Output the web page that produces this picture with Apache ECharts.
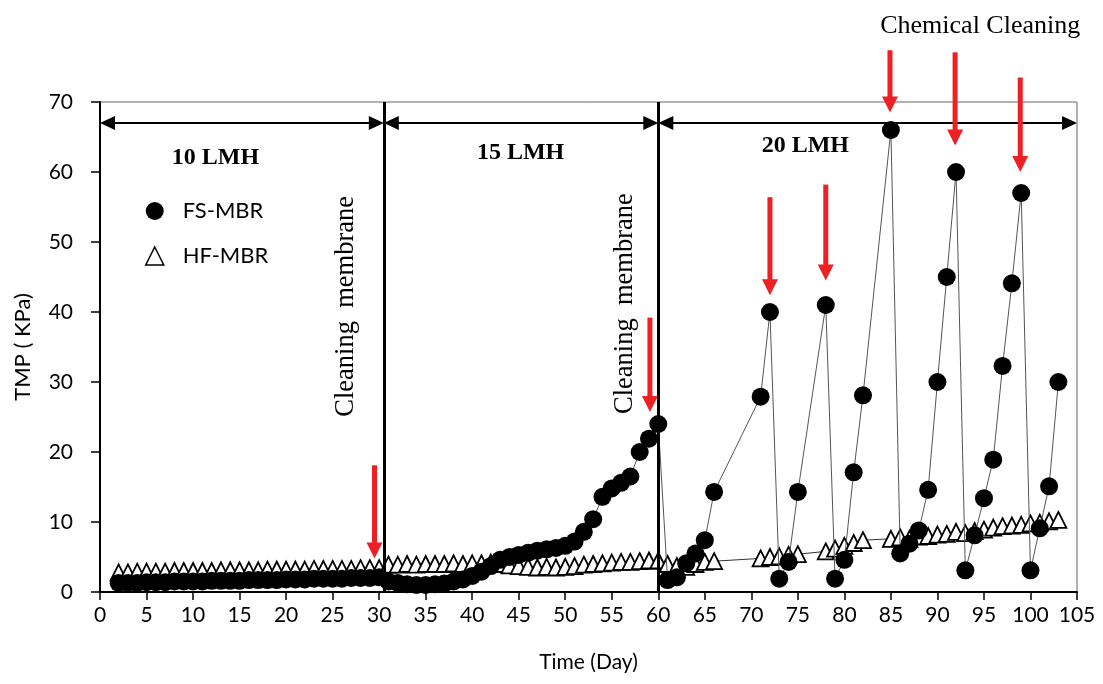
<!DOCTYPE html>
<html><head><meta charset="utf-8">
<script src="https://cdn.jsdelivr.net/npm/echarts@6/dist/echarts.min.js"></script>
<style>html,body{margin:0;padding:0;background:#fff}#c{width:1103px;height:684px}</style>
</head><body><div id="c"></div><script>
// ---- data (Time in days, TMP in kPa) ----
const days = [2,3,4,5,6,7,8,9,10,11,12,13,14,15,16,17,18,19,20,21,22,23,24,25,26,27,28,29,30,
  31,32,33,34,35,36,37,38,39,40,41,42,43,44,45,46,47,48,49,50,51,52,53,54,55,56,57,58,59,60,
  61,62,63,64,65,66, 71,72,73,74,75, 78,79,80,81,82,
  85,86,87,88,89,90,91,92,93,94,95,96,97,98,99,100,101,102,103];
const fsTMP = [1.3,1.3,1.3,1.4,1.4,1.4,1.5,1.5,1.5,1.5,1.6,1.6,1.6,1.6,1.7,1.7,1.7,1.7,1.8,1.8,1.8,1.9,1.9,1.9,1.9,2.0,2.0,2.0,2.1,
  1.5,1.3,1.1,1.0,1.0,1.1,1.2,1.5,1.8,2.3,2.9,3.7,4.6,5.0,5.3,5.6,5.9,6.1,6.3,6.6,7.2,8.6,10.4,13.6,14.8,15.6,16.5,20.0,21.9,24.0,
  1.7,2.1,4.1,5.5,7.4,14.3, 27.9,40.0,1.9,4.3,14.3, 41.0,1.9,4.6,17.1,28.1,
  66.0,5.5,6.9,8.8,14.6,30.0,45.0,60.0,3.1,8.1,13.4,18.9,32.3,44.1,57.0,3.1,9.1,15.1,30.0];
const hfTMP = [2.8,2.8,2.9,2.9,2.9,2.9,3.0,3.0,3.0,3.0,3.0,3.1,3.1,3.1,3.1,3.1,3.2,3.2,3.2,3.2,3.2,3.3,3.3,3.3,3.3,3.3,3.4,3.4,3.4,
  3.9,3.9,4.0,3.9,4.0,4.0,4.0,4.1,4.0,4.1,4.1,4.2,4.0,3.8,3.7,3.6,3.5,3.6,3.5,3.6,3.7,3.9,4.0,4.1,4.2,4.3,4.3,4.4,4.5,4.5,
  4.0,3.7,3.6,4.0,4.3,4.4, 4.8,5.0,5.1,5.3,5.4, 5.8,6.2,6.6,7.0,7.4,
  7.6,7.8,7.6,7.9,8.0,8.2,8.3,8.6,8.4,8.7,8.9,9.2,9.4,9.5,9.6,9.8,9.9,10.1,10.3];
const seriesNames = ['FS-MBR','HF-MBR'];
// flux phases: boundaries (days) and labels
const phaseBounds = [0, 30.5, 60, 105];
const phaseLabels = ['10 LMH','15 LMH','20 LMH'];
const phaseLabelAt = [[12.4,62.1],[45.2,62.7],[75.8,63.7]];
const phaseArrowY = 67;
// cleaning annotations
const cleaningText = 'Cleaning  membrane';
const cleaningAt = [[26.4,40.8],[56.4,41.2]];
const chemText = 'Chemical Cleaning';
const chemAt = [94.6,80.8];
// red arrows: [day, start TMP, tip TMP]
const redArrows = [[29.5,18.1,4.8],[59.1,39.2,25.7],[72.0,56.4,42.4],[78.0,58.2,44.5],
  [84.9,77.4,68.5],[91.9,77.1,63.8],[98.9,73.5,60.0]];

const FONT = 'Lato, "Open Sans", sans-serif';
const SERIF = '"Liberation Serif", "DejaVu Serif", serif';
const chart = echarts.init(document.getElementById('c'));
const fsData = days.map((d,i)=>[d, fsTMP[i]]);
const hfData = days.map((d,i)=>[d, hfTMP[i]]);

chart.setOption({
  animation:false,
  backgroundColor:'#fff',
  grid:{left:100, right:26, top:102, bottom:92, show:true, borderColor:'#666', borderWidth:1},
  legend:{orient:'vertical', left:145, top:200, itemWidth:18, itemHeight:18, itemGap:23, padding:0,
    textStyle:{fontFamily:FONT, fontSize:22, color:'#000', padding:[0,0,0,14]},
    data:[{name:seriesNames[0], icon:'circle', itemStyle:{color:'#000'}},
          {name:seriesNames[1], icon:'triangle', itemStyle:{color:'#fff', borderColor:'#000', borderWidth:1.5}}]},
  xAxis:{type:'value', min:0, max:105, interval:5,
    name:'Time (Day)', nameLocation:'middle', nameGap:60,
    nameTextStyle:{fontFamily:FONT, fontSize:21, color:'#000'},
    axisLine:{lineStyle:{color:'#000', width:2}},
    axisTick:{inside:false, length:8, lineStyle:{color:'#000', width:1.5}},
    axisLabel:{fontFamily:FONT, fontSize:21, color:'#000', margin:13},
    splitLine:{show:false}},
  yAxis:{type:'value', min:0, max:70, interval:10,
    name:'TMP ( KPa)', nameLocation:'middle', nameRotate:90, nameGap:66,
    nameTextStyle:{fontFamily:FONT, fontSize:22, color:'#000'},
    axisLine:{show:true, lineStyle:{color:'#000', width:2}},
    axisTick:{show:true, inside:false, length:9, lineStyle:{color:'#000', width:1.5}},
    axisLabel:{fontFamily:FONT, fontSize:21, color:'#000', margin:27},
    splitLine:{show:false}},
  series:[
    {name:seriesNames[1], type:'line', data:hfData, symbol:'triangle', symbolSize:[16,16],
     itemStyle:{color:'#fff', borderColor:'#000', borderWidth:1.8},
     lineStyle:{color:'#333', width:1}, z:2,
     markLine:{silent:true, symbol:'none', label:{show:false},
       lineStyle:{color:'#000', width:3, type:'solid'},
       data:phaseBounds.slice(1,3).map(v=>({xAxis:v}))}},
    {name:seriesNames[0], type:'line', data:fsData, symbol:'circle', symbolSize:18,
     itemStyle:{color:'#000'}, lineStyle:{color:'#555', width:1}, z:3}
  ]
});

function px(x,y){ return chart.convertToPixel({gridIndex:0},[x,y]); }
const g = [];
// phase double arrows
for(let i=0;i<3;i++){
  const a = px(phaseBounds[i], phaseArrowY), b = px(phaseBounds[i+1], phaseArrowY);
  const L=15, H=7;
  g.push({type:'line', shape:{x1:a[0]+L-2,y1:a[1],x2:b[0]-L+2,y2:b[1]}, style:{stroke:'#000', lineWidth:2}, z:10});
  g.push({type:'polygon', shape:{points:[[a[0],a[1]],[a[0]+L,a[1]-H],[a[0]+L,a[1]+H]]}, style:{fill:'#000'}, z:10});
  g.push({type:'polygon', shape:{points:[[b[0],b[1]],[b[0]-L,b[1]-H],[b[0]-L,b[1]+H]]}, style:{fill:'#000'}, z:10});
  const t = px(phaseLabelAt[i][0], phaseLabelAt[i][1]);
  g.push({type:'text', x:t[0], y:t[1], style:{text:phaseLabels[i], fontFamily:SERIF, fontWeight:'bold', fontSize:24,
    fill:'#000', align:'center', verticalAlign:'middle'}, z:10});
}
// cleaning membrane texts
cleaningAt.forEach(c=>{
  const t = px(c[0], c[1]);
  g.push({type:'text', x:t[0], y:t[1], rotation:Math.PI/2, style:{text:cleaningText, fontFamily:SERIF, fontSize:26.5,
    fill:'#000', align:'center', verticalAlign:'middle'}, z:10});
});
const ct = px(chemAt[0], chemAt[1]);
g.push({type:'text', x:ct[0], y:ct[1], style:{text:chemText, fontFamily:SERIF, fontSize:26, fill:'#000',
  align:'center', verticalAlign:'middle'}, z:10});
// red arrows
redArrows.forEach(r=>{
  const s = px(r[0], r[1]), e = px(r[0], r[2]);
  const HL=16, HW=8;
  g.push({type:'line', shape:{x1:s[0],y1:s[1],x2:e[0],y2:e[1]-HL+2}, style:{stroke:'#ed2024', lineWidth:5}, z:11});
  g.push({type:'polygon', shape:{points:[[e[0]-HW,e[1]-HL],[e[0]+HW,e[1]-HL],[e[0],e[1]]]}, style:{fill:'#ed2024'}, z:11});
});
chart.setOption({graphic:g});
</script></body></html>
